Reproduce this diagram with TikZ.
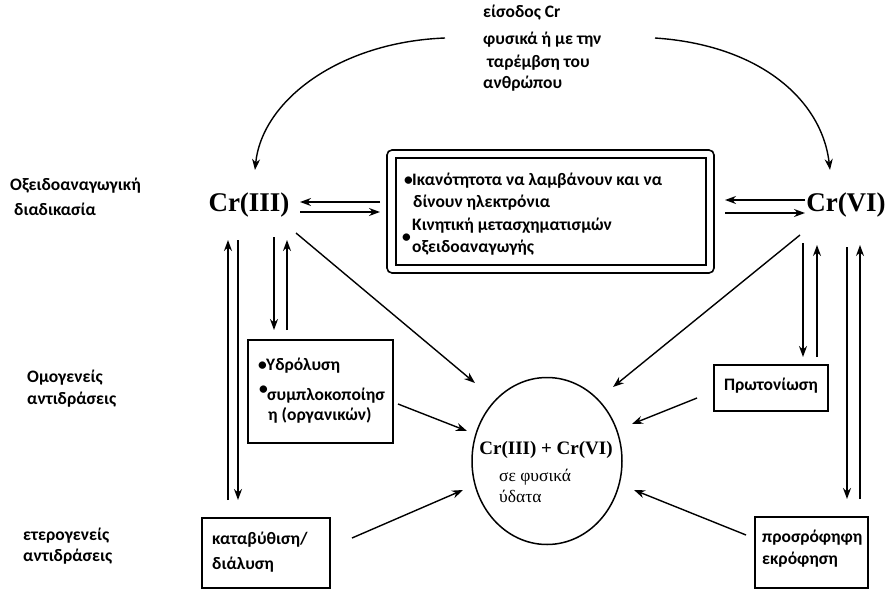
\documentclass[tikz,border=0pt]{standalone}
\usepackage{fontspec}
\setmainfont{Liberation Serif}
\newfontfamily\gr{Carlito}
\usetikzlibrary{arrows.meta,shapes.geometric}
\tikzset{
  lbl/.style={inner sep=0pt, anchor=west, text height=0.7em, text depth=0.2em, font=\gr\bfseries\fontsize{17.5}{20}\selectfont},
  crtxt/.style={inner sep=0pt, font=\bfseries\fontsize{27}{30}\selectfont},
  arr/.style={line width=1.4pt, -{Stealth[length=11pt,width=8pt]}},
  bx/.style={draw, line width=1.5pt, inner sep=0pt}
}
\begin{document}
\begin{tikzpicture}[x=1pt,y=-1pt]
\useasboundingbox (0,0) rectangle (887,592);
% top text
\node[lbl] (t1) at (483,15) {είσοδος Cr};
\node[lbl] (t2) at (483,42) {φυσικά ή με την};
\node[lbl] (t3) at (487,65) {ταρέμβση του};
\node[lbl] (t4) at (483,86) {ανθρώπου};
% left labels
\node[lbl] (l1) at (10,188) {Οξειδοαναγωγική};
\node[lbl] (l2) at (14,213) {διαδικασία};
\node[lbl] (l3) at (27,380) {Ομογενείς};
\node[lbl] (l4) at (27,402) {αντιδράσεις};
\node[lbl] (l5) at (23,538) {ετερογενείς};
\node[lbl] (l6) at (23,559) {αντιδράσεις};
% Cr nodes
\node[crtxt] (cr3) at (249,205) {Cr(III)};
\node[crtxt] (cr6) at (846,205) {Cr(VI)};
% curved input arrows
\coordinate (cl) at (445,38);
\coordinate (cr) at (655,38);
\coordinate (cl2) at (255,170);
\coordinate (cr2) at (830,170);
\draw[arr] (cl) .. controls (340,42) and (262,100) .. (cl2);
\draw[arr] (cr) .. controls (760,45) and (822,100) .. (cr2);
% double box
\draw[line width=1.6pt, rounded corners=5pt] (387,150) rectangle (714,273);
\draw[line width=1.6pt] (396,158) rectangle (706,265);
\node[lbl] (b0) at (404,183) {\textbullet};
\node[lbl] (b1) at (412,183) {Ικανότητοτα να λαμβάνουν και να};
\node[lbl] (b2) at (413,205) {δίνουν ηλεκτρόνια};
\node[lbl] (b3) at (412,228) {Κινητική μετασχηματισμών};
\node[lbl] (b4) at (402,240) {\textbullet};
\node[lbl] (b5) at (412,250) {οξειδοαναγωγής};
% horizontal arrows
\coordinate (h1a) at (380,202); \coordinate (h1b) at (300,202);
\coordinate (h2a) at (300,212); \coordinate (h2b) at (380,212);
\draw[arr] (h1a) -- (h1b);
\draw[arr] (h2a) -- (h2b);
\coordinate (h3a) at (805,200); \coordinate (h3b) at (725,200);
\coordinate (h4a) at (725,213); \coordinate (h4b) at (805,213);
\draw[arr] (h3a) -- (h3b);
\draw[arr] (h4a) -- (h4b);
% vertical arrows left
\coordinate (v1a) at (228,500); \coordinate (v1b) at (228,240);
\coordinate (v2a) at (238,240); \coordinate (v2b) at (238,500);
\coordinate (v3a) at (274,237); \coordinate (v3b) at (274,330);
\coordinate (v4a) at (287,330); \coordinate (v4b) at (287,240);
\draw[arr] (v1a) -- (v1b);
\draw[arr] (v2a) -- (v2b);
\draw[arr] (v3a) -- (v3b);
\draw[arr] (v4a) -- (v4b);
% vertical arrows right
\coordinate (w1a) at (803,243); \coordinate (w1b) at (803,357);
\coordinate (w2a) at (817,357); \coordinate (w2b) at (817,245);
\coordinate (w3a) at (847,247); \coordinate (w3b) at (847,499);
\coordinate (w4a) at (860,499); \coordinate (w4b) at (860,245);
\draw[arr] (w1a) -- (w1b);
\draw[arr] (w2a) -- (w2b);
\draw[arr] (w3a) -- (w3b);
\draw[arr] (w4a) -- (w4b);
% circle
\node[draw, ellipse, line width=1.5pt, minimum width=150pt, minimum height=167pt, inner sep=0pt] (c) at (547,461) {};
\node[inner sep=0pt, font=\bfseries\fontsize{19}{22}\selectfont] (ct) at (546,450) {Cr(III) + Cr(VI)};
\node[inner sep=0pt, anchor=west, text height=0.7em, text depth=0.2em, font=\fontsize{17.5}{19}\selectfont] (c1) at (499,479) {σε φυσικά};
\node[inner sep=0pt, anchor=west, text height=0.7em, text depth=0.2em, font=\fontsize{17.5}{19}\selectfont] (c2) at (499,500) {ύδατα};
% boxes
\draw[bx] (248,340) rectangle (393,443);
\node[lbl] (y0) at (258,368) {\textbullet};
\node[lbl] (y1) at (266,368) {Υδρόλυση};
\node[lbl] (y2) at (259,392) {\textbullet};
\node[lbl] (y3) at (267,398) {συμπλοκοποίησ};
\node[lbl] (y4) at (268,418) {η (οργανικών)};
\coordinate (yb) at (398,404);
\draw[bx] (714,365) rectangle (828,411);
\node[lbl, anchor=center] (p1) at (771,388) {Πρωτονίωση};
\coordinate (pb) at (697,398);
\draw[bx] (202,518) rectangle (330,588);
\node[lbl] (k1) at (212,542) {καταβύθιση/};
\node[lbl] (k2) at (212,567) {διάλυση};
\coordinate (kb) at (352,538);
\draw[bx] (755,517) rectangle (868,588);
\node[lbl] (r1) at (762,540) {προσρόφηφη};
\node[lbl] (r2) at (762,562) {εκρόφηση};
\coordinate (rb) at (746,535);
% diagonal arrows into circle
\coordinate (d3) at (296,233);
\coordinate (d6) at (800,235);
\coordinate (e1) at (475,383);
\coordinate (e2) at (467,431);
\coordinate (e3) at (463,490);
\coordinate (e4) at (613,387);
\coordinate (e5) at (632,424);
\coordinate (e6) at (634,490);
\draw[arr] (d3) -- (e1);
\draw[arr] (yb) -- (e2);
\draw[arr] (kb) -- (e3);
\draw[arr] (d6) -- (e4);
\draw[arr] (pb) -- (e5);
\draw[arr] (rb) -- (e6);
\end{tikzpicture}
\end{document}
